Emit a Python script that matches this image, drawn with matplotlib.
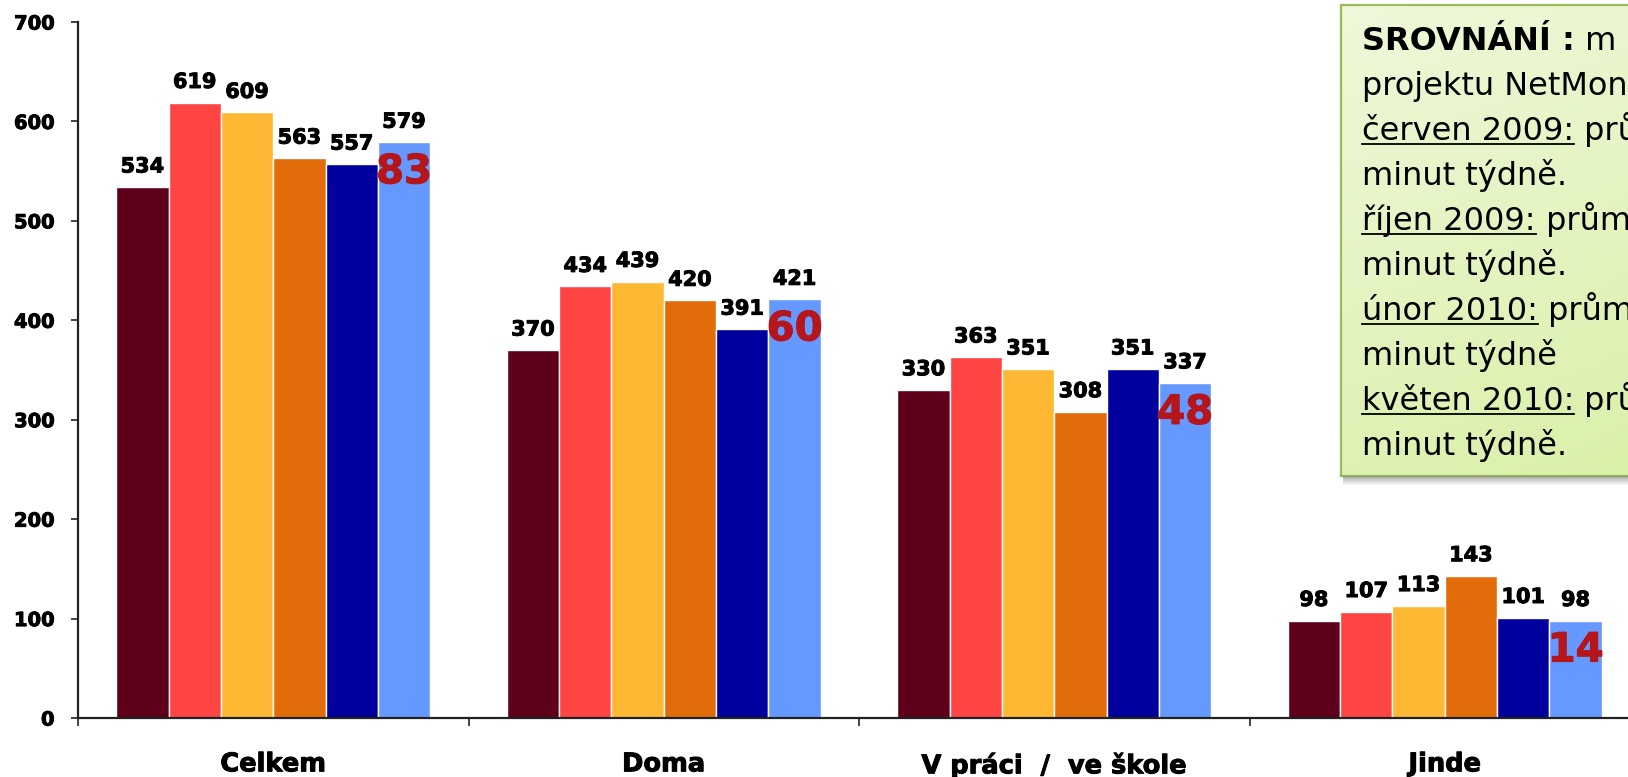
import numpy as np
import matplotlib
matplotlib.use('Agg')
import matplotlib.pyplot as plt
import matplotlib.patheffects as pe
from matplotlib.lines import Line2D
from matplotlib.patches import Rectangle
from matplotlib.colors import LinearSegmentedColormap
from matplotlib.transforms import IdentityTransform

# data
kategorie = ['Celkem', 'Doma', 'V práci  /  ve škole', 'Jinde']
vlna_1 = [534, 370, 330, 98]
vlna_2 = [619, 434, 363, 107]
vlna_3 = [609, 439, 351, 113]
vlna_4 = [563, 420, 308, 143]
vlna_5 = [557, 391, 351, 101]
vlna_6 = [579, 421, 337, 98]
rozdil = [83, 60, 48, 14]
y_ticks = [0, 100, 200, 300, 400, 500, 600, 700]
barvy = ['#5E001A', '#FF4444', '#FFB834', '#E36C0A', '#00009C', '#6699FF']

radky = [
    [('SROVNÁNÍ :', 'bold'), (' m', 'normal')],
    [('projektu NetMon', 'normal')],
    [('červen 2009:', 'underline'), (' prů', 'normal')],
    [('minut týdně.', 'normal')],
    [('říjen 2009:', 'underline'), (' prům', 'normal')],
    [('minut týdně.', 'normal')],
    [('únor 2010:', 'underline'), (' prům', 'normal')],
    [('minut týdně', 'normal')],
    [('květen 2010:', 'underline'), (' prů', 'normal')],
    [('minut týdně.', 'normal')],
]

plt.rcParams['font.family'] = ['DejaVu Sans']

W, H = 1628, 777
fig = plt.figure(figsize=(W / 100, H / 100), dpi=100)
ax = fig.add_axes([78 / W, (H - 718) / H, 1562 / W, 696 / H])

tucne = [pe.withStroke(linewidth=0.7, foreground='black')]

vlny = [vlna_1, vlna_2, vlna_3, vlna_4, vlna_5, vlna_6]
x = np.arange(len(kategorie))
sirka = 0.134
for i, (hodnoty, barva) in enumerate(zip(vlny, barvy)):
    pozice = x + (i - 2.5) * sirka
    ax.bar(pozice, hodnoty, sirka, color=barva, edgecolor='white', linewidth=1)
    for px, v in zip(pozice, hodnoty):
        ax.annotate(str(v), (px, v), xytext=(0, 10.5), textcoords='offset points',
                    ha='center', va='baseline', fontsize=15, fontweight='bold',
                    path_effects=tucne)

# rozdily v poslednim sloupci
pozice = x + 2.5 * sirka
for px, v, r in zip(pozice, vlna_6, rozdil):
    ax.annotate(str(r), (px, v), xytext=(0, -29.5), textcoords='offset points',
                ha='center', va='baseline', fontsize=29, fontweight='bold', color='#B5161B',
                path_effects=[pe.withStroke(linewidth=0.8, foreground='#B5161B')])

ax.set_xlim(-0.5, 3.5)
ax.set_ylim(0, 700)
ax.set_xticks(np.arange(-0.5, 4, 1))
ax.set_xticklabels([])
ax.set_xticks(x, minor=True)
ax.set_xticklabels(kategorie, minor=True, fontsize=18.5, fontweight='bold')
for t in ax.get_xticklabels(minor=True):
    t.set_path_effects(tucne)
ax.tick_params(axis='x', which='minor', length=0, pad=24)
ax.tick_params(axis='x', which='major', length=6, width=1.2, color='#222222')
ax.set_yticks(y_ticks)
ax.set_yticklabels([str(t) for t in y_ticks], fontsize=14, fontweight='bold')
for t in ax.get_yticklabels():
    t.set_path_effects(tucne)
ax.tick_params(axis='y', length=5, width=1.2, pad=12, color='#222222')
for s in ['top', 'right']:
    ax.spines[s].set_visible(False)
for s in ['left', 'bottom']:
    ax.spines[s].set_linewidth(1.6)
    ax.spines[s].set_color('#222222')

# ramecek se srovnanim
box_l, box_t, box_b, box_r = 1341, 5, 476, 1720
for k, a in enumerate([0.10, 0.13, 0.16, 0.20]):
    d = 9 - 2 * k
    fig.add_artist(Rectangle(((box_l + 2) / W, (H - box_b - d) / H), (box_r - box_l) / W, d / H,
                             transform=fig.transFigure, color='#707070', alpha=a, lw=0))
bax = fig.add_axes([box_l / W, (H - box_b) / H, (box_r - box_l) / W, (box_b - box_t) / H])
gy, gx = np.mgrid[0:1:100j, 0:1:100j]
grad = 0.75 * gy + 0.25 * gx
cmap = LinearSegmentedColormap.from_list('zelena', ['#EFF8DA', '#D8F0A6'])
bax.imshow(grad, aspect='auto', extent=[0, 1, 0, 1], cmap=cmap, origin='upper')
bax.set_xticks([])
bax.set_yticks([])
for s in bax.spines.values():
    s.set_color('#9BBB59')
    s.set_linewidth(1.6)

renderer = fig.canvas.get_renderer()
for i, radek in enumerate(radky):
    yb = H - (50 + 45 * i)
    x0 = 1362
    for text, styl in radek:
        t = fig.text(x0 / W, yb / H, text, fontsize=23,
                     fontweight='bold' if styl == 'bold' else 'normal',
                     ha='left', va='baseline', zorder=5)
        bb = t.get_window_extent(renderer)
        if styl == 'underline':
            fig.add_artist(Line2D([bb.x0, bb.x1], [yb - 4, yb - 4], transform=IdentityTransform(),
                                  color='black', lw=1.3, zorder=5))
        x0 = bb.x1

fig.savefig('out.png', dpi=100)
